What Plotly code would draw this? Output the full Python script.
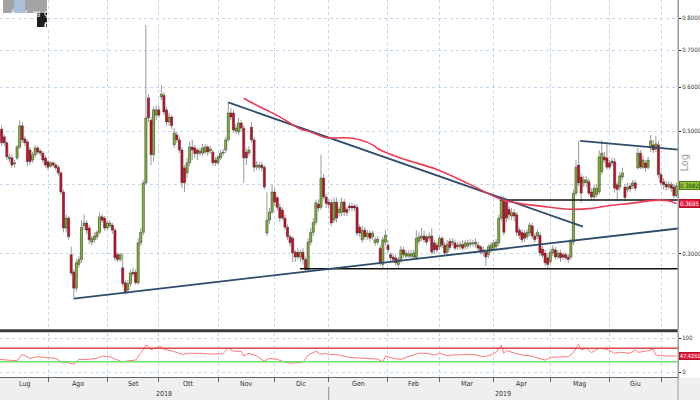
import math
import pandas as pd
import plotly.graph_objects as go

# ---------------- data ----------------
first_session = 3   # sessions counted on a business-day calendar from 2018-07-02

opens = [
    .490, .504, .488, .476, .445, .447, .436, .447, .468, .511,
    .484, .478, .462, .443, .453, .466, .460, .456, .447, .440,
    .432, .438, .434, .430, .420, .388, .334, .348, .299, .278,
    .260, .287, .293, .337, .341, .334, .315, .318, .322, .328,
    .350, .348, .334, .337, .338, .331, .299, .293, .283, .266,
    .258, .265, .278, .278, .266, .314, .328, .403, .574, .523,
    .453, .534, .546, .576, .580, .546, .519, .530, .472, .492,
    .482, .462, .429, .420, .438, .468, .466, .462, .456, .456,
    .458, .468, .460, .458, .443, .438, .447, .456, .462, .482,
    .539, .539, .500, .498, .517, .506, .458, .456, .508, .482,
    .430, .430, .434, .430, .327, .345, .357, .388, .379, .364,
    .360, .348, .335, .322, .320, .302, .302, .296, .302, .293,
    .281, .315, .328, .342, .369, .364, .411, .380, .372, .371,
    .345, .372, .356, .356, .372, .361, .366, .366, .366, .364,
    .335, .318, .331, .322, .327, .322, .314, .315, .307, .287,
    .315, .311, .299, .296, .295, .287, .293, .305, .297, .297,
    .297, .296, .295, .316, .320, .323, .322, .320, .323, .314,
    .311, .309, .320, .311, .302, .316, .314, .314, .311, .309,
    .312, .309, .310, .312, .313, .312, .311, .309, .305, .302,
    .299, .305, .307, .309, .314, .348, .375, .372, .361, .351,
    .356, .353, .331, .328, .327, .322, .327, .337, .323, .323,
    .324, .306, .301, .295, .290, .301, .305, .296, .301, .299,
    .299, .296, .296, .315, .386, .434, .413, .403, .403, .405,
    .388, .380, .384, .388, .422, .449, .447, .438, .441, .440,
    .400, .396, .413, .396, .392, .398, .398, .403, .429, .456,
    .430, .438, .430, .466, .472, .464, .472, .417, .405, .401,
    .396, .400, .396, .382,
]
highs = [
    .505, .512, .492, .480, .455, .453, .443, .472, .523, .519,
    .490, .482, .468, .458, .472, .470, .464, .460, .451, .443,
    .441, .441, .438, .434, .423, .392, .354, .351, .309, .281,
    .293, .297, .345, .353, .345, .338, .323, .328, .331, .356,
    .354, .351, .345, .345, .341, .334, .302, .301, .301, .269,
    .269, .281, .283, .281, .320, .334, .408, .777, .583, .530,
    .553, .556, .555, .605, .588, .553, .539, .534, .506, .498,
    .488, .468, .434, .447, .478, .482, .472, .466, .466, .474,
    .474, .472, .470, .462, .449, .453, .462, .464, .488, .564,
    .550, .546, .515, .528, .523, .512, .466, .470, .519, .488,
    .441, .440, .440, .434, .387, .363, .400, .394, .382, .370,
    .364, .353, .339, .325, .323, .305, .307, .305, .307, .296,
    .320, .334, .348, .376, .376, .453, .418, .385, .377, .376,
    .379, .379, .366, .379, .377, .364, .371, .371, .369, .369,
    .339, .337, .335, .331, .331, .330, .322, .323, .311, .322,
    .331, .318, .302, .300, .299, .296, .310, .309, .305, .304,
    .305, .305, .331, .328, .334, .330, .325, .328, .334, .318,
    .315, .323, .323, .315, .318, .320, .320, .318, .315, .316,
    .318, .318, .318, .319, .318, .320, .315, .311, .309, .305,
    .312, .315, .318, .319, .353, .382, .382, .379, .366, .363,
    .361, .357, .335, .332, .331, .332, .342, .341, .327, .332,
    .328, .310, .305, .299, .306, .311, .309, .305, .305, .302,
    .302, .300, .320, .392, .443, .480, .420, .415, .415, .411,
    .394, .400, .401, .462, .482, .458, .476, .443, .447, .447,
    .405, .422, .429, .401, .403, .403, .408, .408, .466, .462,
    .451, .443, .449, .492, .482, .490, .480, .422, .411, .406,
    .406, .405, .401, .403,
]
lows = [
    .486, .470, .470, .443, .438, .429, .430, .443, .464, .476,
    .470, .432, .434, .438, .447, .453, .451, .438, .429, .425,
    .429, .430, .425, .415, .384, .328, .328, .318, .274, .249,
    .256, .283, .289, .331, .326, .312, .311, .314, .318, .325,
    .341, .330, .331, .334, .326, .291, .290, .290, .262, .253,
    .254, .262, .273, .264, .264, .310, .324, .400, .519, .434,
    .440, .523, .528, .568, .534, .512, .511, .504, .466, .476,
    .456, .394, .388, .411, .432, .443, .447, .443, .451, .451,
    .453, .451, .455, .432, .432, .434, .443, .451, .456, .478,
    .523, .496, .494, .492, .500, .403, .434, .451, .476, .422,
    .425, .425, .422, .392, .323, .339, .354, .366, .359, .342,
    .345, .331, .318, .309, .290, .290, .293, .290, .287, .278,
    .278, .311, .323, .338, .357, .360, .376, .363, .362, .337,
    .341, .342, .351, .351, .351, .351, .358, .358, .358, .323,
    .322, .314, .318, .318, .316, .318, .310, .311, .285, .283,
    .311, .301, .290, .289, .285, .283, .289, .295, .294, .295,
    .294, .293, .293, .312, .316, .314, .311, .316, .299, .300,
    .301, .305, .307, .297, .299, .305, .310, .304, .305, .305,
    .304, .305, .306, .308, .309, .308, .304, .299, .297, .285,
    .295, .301, .304, .305, .310, .344, .324, .342, .345, .345,
    .344, .323, .319, .314, .315, .318, .323, .319, .314, .319,
    .297, .295, .285, .281, .287, .297, .293, .293, .290, .293,
    .292, .289, .293, .311, .382, .398, .371, .396, .396, .382,
    .376, .374, .379, .384, .417, .438, .426, .426, .432, .387,
    .376, .390, .408, .374, .387, .388, .393, .390, .426, .426,
    .426, .422, .426, .458, .456, .458, .411, .398, .392, .390,
    .392, .388, .378, .379,
]
closes = [
    .500, .476, .476, .449, .449, .434, .438, .468, .511, .482,
    .476, .440, .440, .453, .466, .458, .456, .443, .434, .430,
    .438, .434, .429, .420, .388, .334, .348, .322, .277, .260,
    .289, .293, .335, .341, .331, .318, .320, .323, .328, .350,
    .345, .334, .341, .341, .331, .295, .293, .299, .265, .256,
    .265, .277, .276, .266, .314, .328, .403, .528, .528, .453,
    .546, .546, .534, .583, .541, .519, .530, .511, .496, .482,
    .462, .403, .403, .438, .468, .462, .455, .455, .460, .466,
    .468, .458, .464, .438, .438, .449, .456, .458, .482, .539,
    .530, .502, .506, .517, .506, .447, .447, .462, .482, .430,
    .434, .434, .429, .396, .345, .357, .388, .372, .364, .348,
    .348, .335, .322, .314, .301, .296, .296, .302, .293, .281,
    .315, .328, .342, .371, .363, .411, .380, .370, .368, .341,
    .372, .348, .361, .372, .357, .356, .363, .363, .363, .327,
    .327, .331, .322, .327, .320, .327, .318, .319, .289, .318,
    .324, .305, .295, .293, .289, .293, .305, .299, .301, .300,
    .300, .301, .320, .322, .323, .318, .315, .323, .302, .305,
    .305, .320, .311, .301, .312, .308, .316, .307, .309, .312,
    .307, .314, .314, .314, .314, .315, .307, .302, .302, .296,
    .309, .311, .314, .315, .348, .375, .328, .348, .353, .356,
    .351, .328, .324, .318, .320, .328, .338, .323, .318, .328,
    .301, .298, .289, .287, .302, .306, .296, .301, .295, .296,
    .295, .293, .315, .386, .430, .403, .386, .408, .408, .386,
    .380, .394, .394, .449, .456, .443, .430, .430, .438, .394,
    .392, .415, .420, .379, .396, .393, .403, .394, .456, .430,
    .443, .429, .443, .480, .462, .474, .417, .403, .400, .396,
    .401, .394, .382, .3982,
]

# moving average (red line), read at sample sessions
ma_session = [98, 100, 107, 113, 120, 124, 130, 137, 143, 148, 151, 160,
              173, 186, 198, 205, 217, 226, 232, 239, 248, 259, 264, 266]
ma_value = [.573, .566, .545, .527, .504, .498, .486, .486, .482, .472, .462, .445,
            .426, .400, .376, .370, .364, .361, .362, .366, .370, .375, .373, .3695]

# RSI, read at sample sessions
rsi_session = [3, 8, 10, 12, 15, 18, 22, 25, 28, 29, 32, 34, 37, 41, 43, 46, 49, 51, 53, 56,
               58, 60, 61, 62, 64, 66, 67, 71, 74, 77, 81, 84, 88, 90, 92, 94, 97, 98, 100, 103,
               106, 108, 111, 114, 116, 119, 121, 123, 126, 128, 130, 131, 133, 135, 139, 141,
               146, 150, 152, 153, 156, 159, 161, 166, 169, 172, 174, 177, 179, 183, 187, 191,
               194, 196, 198, 199, 200, 203, 206, 209, 213, 215, 217, 221, 224, 226, 228, 229,
               231, 233, 236, 239, 242, 244, 248, 250, 251, 254, 257, 258, 262, 265, 266]
rsi_value = [37, 33, 33, 52, 40, 45, 42, 40, 26, 29, 23, 37, 37, 40, 47, 45, 35, 29, 33, 35,
             55, 79, 76, 65, 72, 75, 67, 60, 52, 55, 55, 53, 53, 55, 70, 61, 61, 47, 55, 47,
             32, 40, 37, 29, 26, 29, 29, 50, 61, 52, 55, 50, 52, 50, 43, 42,
             40, 38, 30, 47, 40, 37, 43, 55, 55, 50, 55, 48, 50, 50, 52, 45,
             50, 58, 79, 55, 63, 56, 50, 48, 40, 35, 43, 43, 45, 57, 81, 65,
             70, 57, 70, 67, 55, 58, 55, 65, 58, 61, 67, 50, 47, 47, 47.4261]

# drawn trend lines (session, price)
support_session, support_value = [32, 267], [0.249, 0.3335]
resist_session, resist_value = [92, 229.7], [0.563, 0.336]
wedge_session, wedge_value = [228.6, 267], [0.480, 0.4625]
level1_session, level1_value = [197.5, 267], [0.3753, 0.3753]
level2_session, level2_value = [119.8, 267], [0.2820, 0.2820]

month_names = ["Lug", "Ago", "Set", "Ott", "Nov", "Dic", "Gen", "Feb", "Mar", "Apr", "Mag", "Giu"]
year_names = ["2018", "2019"]
price_ticks = [0.3, 0.4, 0.5, 0.6, 0.7, 0.8]
price_labels = ["0.3000", "", "0.5000", "0.6000", "0.7000", "0.8000"]  # 0.4000 sits under the price box
last_price, ma_last, rsi_last = 0.3982, 0.3695, 47.4261

# ---------------- styling / layout helpers ----------------
GREEN = "#86c226"
RED = "#e6001e"
WICK = "#9a9a9a"
OUTLINE = "#333333"
GRID = "#c3d7ec"
BLUE = "#2f4b6b"
FONT = "Liberation Sans Narrow, DejaVu Sans Condensed, Arial Narrow, Liberation Sans, sans-serif"

X0, X1 = 3.36, 266.6
PLOT_W, PLOT_H = 678.0, 377.0


def px(xp):
    return xp / PLOT_W


def py(yp):
    return (PLOT_H - yp) / PLOT_H


cal = pd.bdate_range("2018-07-02", "2019-07-31")
periods = cal.to_period("M")
month_starts = [i for i in range(1, len(cal)) if periods[i] != periods[i - 1] and i <= X1]
bounds = [X0] + month_starts
month_centers = [(bounds[k] + bounds[k + 1]) / 2 for k in range(len(month_names))]
year_start = month_starts[month_names.index("Gen") - 1]
year_centers = [(X0 + year_start) / 2, (year_start + X1) / 2]

sessions = list(range(first_session, first_session + len(opens)))
body_hi = [max(o, c) for o, c in zip(opens, closes)]
body_lo = [min(o, c) for o, c in zip(opens, closes)]
body_col = [GREEN if c >= o else RED for o, c in zip(opens, closes)]

# wick segments (above and below each body)
wx, wy = [], []
for s, h, l, bh, bl in zip(sessions, highs, lows, body_hi, body_lo):
    wx += [s, s, None, s, s, None]
    wy += [h, bh, None, bl, l, None]

fig = go.Figure()
fig.add_trace(go.Scatter(x=wx, y=wy, mode="lines", line=dict(color=WICK, width=1),
                         xaxis="x", yaxis="y", hoverinfo="skip", showlegend=False, connectgaps=False))
fig.add_trace(go.Bar(x=sessions, y=[h - l for h, l in zip(body_hi, body_lo)], base=body_lo,
                     width=0.8, marker=dict(color=body_col, line=dict(color=OUTLINE, width=0.6)),
                     xaxis="x", yaxis="y", hoverinfo="skip", showlegend=False))

for sx, sv, col, w in [
    (level2_session, level2_value, "#111111", 1.5),
    (level1_session, level1_value, "#111111", 1.5),
    (support_session, support_value, BLUE, 1.8),
    (resist_session, resist_value, BLUE, 1.8),
    (wedge_session, wedge_value, BLUE, 1.8),
]:
    fig.add_trace(go.Scatter(x=sx, y=sv, mode="lines", line=dict(color=col, width=w),
                             xaxis="x", yaxis="y", hoverinfo="skip", showlegend=False))

fig.add_trace(go.Scatter(x=ma_session, y=ma_value, mode="lines",
                         line=dict(color="#ee3b55", width=1.6, shape="spline"),
                         xaxis="x", yaxis="y", hoverinfo="skip", showlegend=False))

fig.add_trace(go.Scatter(x=rsi_session, y=rsi_value, mode="lines", line=dict(color="#ff7a7a", width=1),
                         xaxis="x2", yaxis="y2", hoverinfo="skip", showlegend=False))

ymin, ymax = -0.6587, -0.0644
TICKFONT = dict(size=6, color="#333333", family=FONT)

fig.update_layout(
    width=700, height=400,
    margin=dict(l=0, r=22, t=0, b=23, autoexpand=False),
    paper_bgcolor="white", plot_bgcolor="white",
    showlegend=False, bargap=0,
    font=dict(family=FONT, size=7, color="#333333"),
    xaxis=dict(domain=[0, 1], anchor="y", range=[X0, X1], tickvals=month_starts,
               showticklabels=False, ticks="", showgrid=True, gridcolor=GRID, griddash="dot",
               gridwidth=1, zeroline=False, showline=False, automargin=False, fixedrange=True),
    xaxis2=dict(domain=[0, 1], anchor="y2", range=[X0, X1], tickvals=month_starts,
                showticklabels=False, ticks="outside", ticklen=4, tickcolor="#666666",
                showgrid=True, gridcolor=GRID, griddash="dot", gridwidth=1, fixedrange=True,
                zeroline=False, showline=True, linecolor="#666666", linewidth=1, automargin=False),
    yaxis=dict(domain=[py(329), 1], anchor="x", type="log", range=[ymin, ymax], side="right",
               tickvals=price_ticks, ticktext=price_labels,
               ticks="outside", ticklen=2, tickcolor="#222222", tickfont=TICKFONT,
               showgrid=True, gridcolor=GRID, griddash="dot", gridwidth=1, automargin=False,
               zeroline=False, showline=True, linecolor="#9a9a9a", linewidth=1, fixedrange=True),
    yaxis2=dict(domain=[0, py(333)], anchor="x2", range=[-14.7, 114.7], side="right",
                tickvals=[0, 100], ticktext=["0", "100"], ticks="outside", ticklen=2,
                tickcolor="#222222", tickfont=TICKFONT, fixedrange=True,
                showgrid=True, gridcolor=GRID, griddash="dot", gridwidth=1, automargin=False,
                zeroline=False, showline=True, linecolor="#9a9a9a", linewidth=1),
)

shapes = [
    dict(type="rect", xref="paper", yref="paper", x0=0, x1=700 / PLOT_W, y0=py(400), y1=py(377.5),
         fillcolor="#efefef", line=dict(width=0), layer="below"),
    dict(type="rect", xref="paper", yref="paper", x0=0, x1=1, y0=py(332.3), y1=py(329.3),
         fillcolor="#3a3a3a", line=dict(width=0)),
    dict(type="line", xref="paper", yref="paper", x0=1, x1=1, y0=py(400), y1=1,
         line=dict(color="#9a9a9a", width=1)),
    dict(type="line", xref="x2", yref="paper", x0=year_start, x1=year_start, y0=py(387), y1=py(400),
         line=dict(color="#888888", width=1)),
    dict(type="line", xref="paper", yref="y2", x0=0, x1=1, y0=70, y1=70, line=dict(color="#e5484d", width=1.4)),
    dict(type="line", xref="paper", yref="y2", x0=0, x1=1, y0=30, y1=30, line=dict(color="#6fe36a", width=1.4)),
    dict(type="rect", xref="paper", yref="paper", x0=px(3), x1=px(47), y0=py(13), y1=py(0),
         fillcolor="#a3a3a3", line=dict(width=0)),
    dict(type="rect", xref="paper", yref="paper", x0=px(14), x1=px(25), y0=py(13), y1=py(0),
         fillcolor="#a9c0dc", line=dict(width=0)),
    dict(type="rect", xref="paper", yref="paper", x0=px(37), x1=px(47), y0=py(27), y1=py(13),
         fillcolor="#1e1e1e", line=dict(width=0)),
]
fig.update_layout(shapes=shapes)

annotations = []
for name, c in zip(month_names, month_centers):
    annotations.append(dict(x=c, xref="x2", y=py(384), yref="paper", text=name, showarrow=False,
                            font=dict(size=7, color="#333333", family=FONT), yanchor="middle"))
for name, c in zip(year_names, year_centers):
    annotations.append(dict(x=c, xref="x2", y=py(393.5), yref="paper", text=name, showarrow=False,
                            font=dict(size=7, color="#333333", family=FONT), yanchor="middle"))
annotations.append(dict(x=1, xref="paper", xanchor="left", xshift=1, y=math.log10(last_price), yref="y",
                        text=f"{last_price:.4f}", showarrow=False, bgcolor="#97c93e", bordercolor="#4e7d12",
                        borderwidth=1, borderpad=0, font=dict(size=6, color="#1c2d05", family=FONT)))
annotations.append(dict(x=1, xref="paper", xanchor="left", xshift=1, y=math.log10(ma_last), yref="y",
                        text=f"{ma_last:.4f}", showarrow=False, bgcolor="#e8193c", bordercolor="#b10f2a",
                        borderwidth=1, borderpad=0, font=dict(size=6, color="white", family=FONT)))
annotations.append(dict(x=1, xref="paper", xanchor="left", xshift=1, y=rsi_last, yref="y2",
                        text=f"{rsi_last:.4f}", showarrow=False, bgcolor="#e8193c", bordercolor="#b10f2a",
                        borderwidth=1, borderpad=0, font=dict(size=5.5, color="white", family=FONT)))
annotations.append(dict(x=px(692), xref="paper", y=py(163), yref="paper", text="Log", textangle=-90,
                        showarrow=False, font=dict(size=11, color="#a0a0a0", family=FONT)))
for gx, g in [(8.5, "ǂ"), (19.5, "∠"), (30.5, "▤"), (41.5, "ϙ")]:
    annotations.append(dict(x=px(gx), xref="paper", y=py(6.5), yref="paper", text=g, showarrow=False,
                            font=dict(size=8, color="white", family="DejaVu Sans")))
annotations.append(dict(x=px(42), xref="paper", y=py(20), yref="paper", text="<b>0</b>", showarrow=False,
                        font=dict(size=8, color="white", family="DejaVu Sans")))
fig.update_layout(annotations=annotations)

fig.write_html("out.html", config={"displayModeBar": False, "staticPlot": True},
               post_script="document.body.style.margin='0';document.body.style.overflow='hidden';")
